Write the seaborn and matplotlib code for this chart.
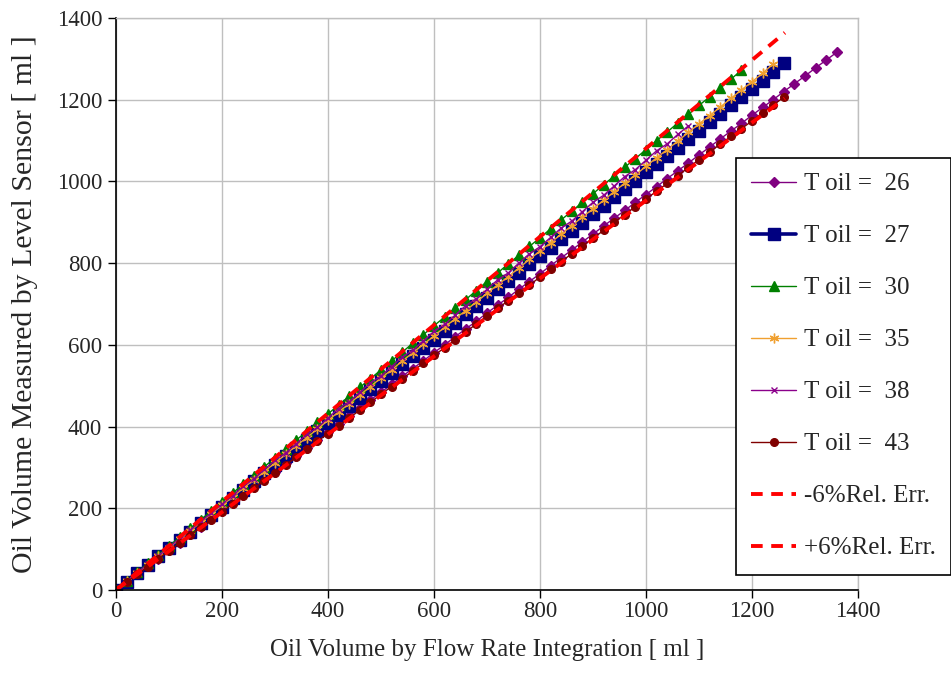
import matplotlib
matplotlib.use("Agg")
import matplotlib.pyplot as plt
import seaborn as sns

# ---------------- data ----------------
x_flow = [0, 20, 40, 60, 80, 100, 120, 140, 160, 180, 200, 220, 240, 260, 280, 300,
          320, 340, 360, 380, 400, 420, 440, 460, 480, 500, 520, 540, 560, 580, 600,
          620, 640, 660, 680, 700, 720, 740, 760, 780, 800, 820, 840, 860, 880, 900,
          920, 940, 960, 980, 1000, 1020, 1040, 1060, 1080, 1100, 1120, 1140, 1160,
          1180, 1200, 1220, 1240, 1260, 1280, 1300, 1320, 1340, 1360]

y_t26 = [0, 19, 39, 58, 77, 97, 116, 136, 155, 174, 194, 213, 232, 252, 271, 290,
         310, 329, 348, 368, 387, 407, 426, 445, 465, 484, 503, 523, 542, 561, 581,
         600, 620, 639, 658, 678, 697, 716, 736, 755, 774, 794, 813, 832, 852, 871,
         891, 910, 929, 949, 968, 987, 1007, 1026, 1045, 1065, 1084, 1104, 1123,
         1142, 1162, 1181, 1200, 1220, 1239, 1258, 1278, 1297, 1316]

y_t27 = [0, 20, 41, 61, 82, 102, 123, 143, 164, 184, 204, 225, 245, 266, 286, 307,
         327, 347, 368, 388, 409, 429, 450, 470, 491, 511, 531, 552, 572, 593, 613,
         634, 654, 675, 695, 715, 736, 756, 777, 797, 818, 838, 858, 879, 899, 920,
         940, 961, 981, 1002, 1022, 1042, 1063, 1083, 1104, 1124, 1145, 1165, 1186,
         1206, 1226, 1247, 1267, 1290]

y_t30 = [0, 22, 43, 65, 86, 108, 129, 151, 172, 194, 216, 237, 259, 280, 302, 323,
         345, 367, 388, 410, 431, 453, 474, 496, 517, 539, 561, 582, 604, 625, 647,
         668, 690, 711, 733, 755, 776, 798, 819, 841, 862, 884, 906, 927, 949, 970,
         992, 1013, 1035, 1056, 1078, 1100, 1121, 1143, 1164, 1186, 1207, 1229, 1250,
         1272]

y_t35 = [0, 21, 41, 62, 83, 104, 124, 145, 166, 187, 207, 228, 249, 270, 290, 311,
         332, 353, 373, 394, 415, 436, 456, 477, 498, 519, 539, 560, 581, 601, 622,
         643, 664, 684, 705, 726, 747, 767, 788, 809, 830, 850, 871, 892, 913, 933,
         954, 975, 996, 1016, 1037, 1058, 1078, 1099, 1120, 1141, 1161, 1182, 1203,
         1224, 1244, 1265, 1288]

y_t38 = [0, 21, 42, 63, 84, 105, 126, 147, 168, 189, 210, 231, 254, 272, 295, 318,
         335, 358, 381, 398, 421, 444, 461, 484, 507, 524, 547, 570, 587, 610, 633,
         650, 673, 696, 713, 736, 759, 776, 800, 823, 840, 863, 886, 903, 926, 949,
         966, 989, 1012, 1029, 1052, 1075, 1092, 1115, 1136]

y_t43 = [0, 19, 38, 57, 77, 96, 115, 134, 153, 172, 191, 211, 230, 249, 268, 287,
         306, 325, 345, 364, 383, 402, 421, 440, 459, 479, 498, 517, 536, 555, 574,
         593, 612, 632, 651, 670, 689, 708, 727, 746, 766, 785, 804, 823, 842, 861,
         880, 900, 919, 938, 957, 976, 995, 1014, 1034, 1053, 1072, 1091, 1110, 1129,
         1148, 1168, 1187, 1206]

err_x = [0, 1262]
err_minus = [0, 1203]
err_plus = [0, 1364]

labels = ["T oil =  26", "T oil =  27", "T oil =  30", "T oil =  35",
          "T oil =  38", "T oil =  43", "-6%Rel. Err.", "+6%Rel. Err."]
ticks = [0, 200, 400, 600, 800, 1000, 1200, 1400]

# ---------------- styling ----------------
sns.set_style("white")
plt.rcParams["font.family"] = ["Liberation Serif", "DejaVu Serif"]

fig = plt.figure(figsize=(9.51, 6.96), dpi=100)
ax = fig.add_axes([116 / 951, 1 - 590 / 696, 742 / 951, 572 / 696])

series = [
    (y_t26, "#800080", "D", 5.5, 1.0),
    (y_t27, "#000080", "s", 8.5, 2.6),
    (y_t30, "#008000", "^", 7.0, 1.0),
    (y_t35, "#F0A030", (6, 2, 0), 7.0, 1.0),
    (y_t38, "#8B008B", "x", 5.0, 1.0),
    (y_t43, "#800000", "o", 5.5, 1.0),
]

for (yv, col, mk, ms, lw), lab in zip(series, labels[:6]):
    sns.lineplot(x=x_flow[:len(yv)], y=yv, ax=ax, color=col, marker=mk,
                 markersize=ms, markeredgecolor=col, markerfacecolor=col,
                 markeredgewidth=1.0, linewidth=lw, label=lab, sort=False,
                 estimator=None)

for yv, lab in zip([err_minus, err_plus], labels[6:]):
    sns.lineplot(x=err_x, y=yv, ax=ax, color="#FF0000", linewidth=2.8,
                 dashes=False, label=lab, sort=False, estimator=None,
                 linestyle=(0, (3, 2.2)))

ax.set_xlim(0, 1400)
ax.set_ylim(0, 1400)
ax.set_xticks(ticks)
ax.set_yticks(ticks)
ax.set_xticklabels([str(t) for t in ticks])
ax.set_yticklabels([str(t) for t in ticks])
ax.grid(True, color="#BFBFBF", linewidth=1.0)
ax.set_axisbelow(True)

for side in ["left", "bottom"]:
    ax.spines[side].set_color("black")
    ax.spines[side].set_linewidth(1.2)
for side in ["top", "right"]:
    ax.spines[side].set_color("#BFBFBF")
    ax.spines[side].set_linewidth(1.0)

ax.tick_params(axis="both", which="major", direction="out", length=6,
               width=1.0, color="black", labelsize=16.5,
               bottom=True, left=True)
ax.tick_params(axis="x", pad=2)
ax.tick_params(axis="y", pad=4)

ax.set_xlabel("Oil Volume by Flow Rate Integration [ ml ]", fontsize=18)
ax.set_ylabel("Oil Volume Measured by Level Sensor [ ml ]", fontsize=21.5)
ax.xaxis.set_label_coords(0.5, -0.085)
ax.yaxis.set_label_coords(-0.105, 0.5)

handles, labs = ax.get_legend_handles_labels()
leg = ax.legend(handles, labs, loc="upper left",
                bbox_to_anchor=(736 / 951, 1 - 158 / 696),
                bbox_transform=fig.transFigure, fontsize=18, frameon=True,
                fancybox=False, edgecolor="black", framealpha=1.0,
                handlelength=1.8, handletextpad=0.32, labelspacing=1.18,
                borderpad=0.6, borderaxespad=0.0)
leg.get_frame().set_linewidth(1.2)

fig.savefig("out.png", dpi=100)
